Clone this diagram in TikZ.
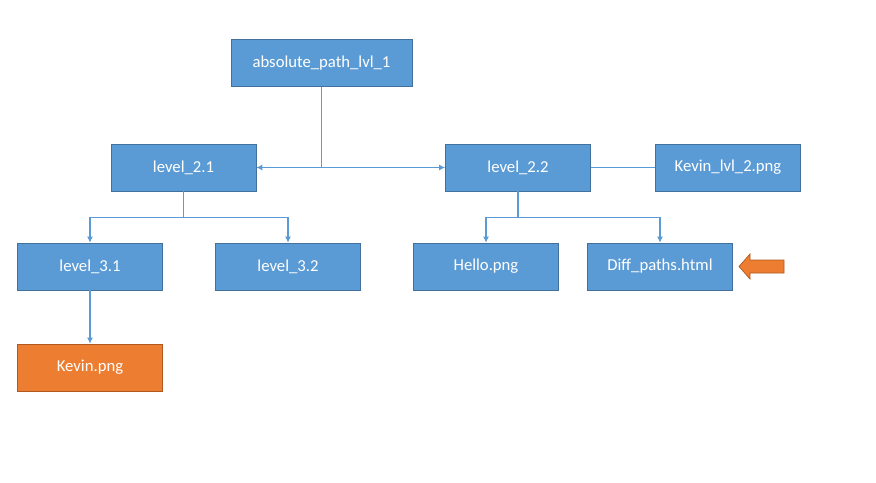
\documentclass[tikz,border=0pt]{standalone}
\usepackage{fontspec}
\setmainfont{Carlito}
\usepackage{tikz}
\usetikzlibrary{arrows.meta}

\definecolor{boxblue}{HTML}{5B9BD5}
\definecolor{boxedge}{HTML}{41719C}
\definecolor{boxorange}{HTML}{ED7D31}
\definecolor{orangeedge}{HTML}{AE5A21}

\tikzset{
  folder/.style={draw=boxedge,fill=boxblue,text=white,minimum width=2.9cm,
    minimum height=0.94cm,inner sep=0pt,font=\fontsize{9.5}{11}\selectfont},
  found/.style={folder,draw=orangeedge,fill=boxorange},
  link/.style={draw=boxblue,line width=0.6pt},
  linkarrow/.style={link,-{Latex[length=3.5pt,width=3.5pt]}}
}

\begin{document}
\begin{tikzpicture}[x=0.02cm,y=-0.02cm]
  \useasboundingbox[fill=white] (0,0) rectangle (876,483);

  % top level
  \node[folder,minimum width=3.62cm] (root) at (321.5,63) {absolute\_path\_lvl\_1};

  % second level
  \node[folder] (lvlA) at (183.5,167.5) {level\_2.1};
  \node[folder] (lvlB) at (518,167.5) {level\_2.2};
  \node[folder] (kevtwo) at (728,167.5) {Kevin\_lvl\_2.png};

  % third level
  \node[folder] (lvlAa) at (90,266.5) {level\_3.1};
  \node[folder] (lvlAb) at (288,266.5) {level\_3.2};
  \node[folder] (hello) at (486,266.5) {Hello.png};
  \node[folder] (diff) at (660,266.5) {Diff\_paths.html};

  % fourth level
  \node[found] (kevin) at (90,367.5) {Kevin.png};

  % connectors
  \coordinate (split) at (root.south |- lvlA.east);
  \draw[link] (root.south) -- (split);
  \draw[linkarrow] (split) -- (lvlA.east);
  \draw[linkarrow] (split) -- (lvlB.west);
  \draw[link] (lvlB.east) -- (kevtwo.west);

  \draw[link] (lvlA.south) -- ++(0,26) coordinate (forkA);
  \draw[linkarrow] (forkA) -| (lvlAa.north);
  \draw[linkarrow] (forkA) -| (lvlAb.north);

  \draw[link] (lvlB.south) -- ++(0,26) coordinate (forkB);
  \draw[linkarrow] (forkB) -| (hello.north);
  \draw[linkarrow] (forkB) -| (diff.north);

  \draw[linkarrow] (lvlAa.south) -- (kevin.north);

  % pointer
  \filldraw[fill=boxorange,draw=orangeedge,line width=0.4pt]
    (739,266.5) -- (750,254) -- (750,260) -- (784,260) -- (784,273)
    -- (750,273) -- (750,279) -- cycle;
\end{tikzpicture}
\end{document}
